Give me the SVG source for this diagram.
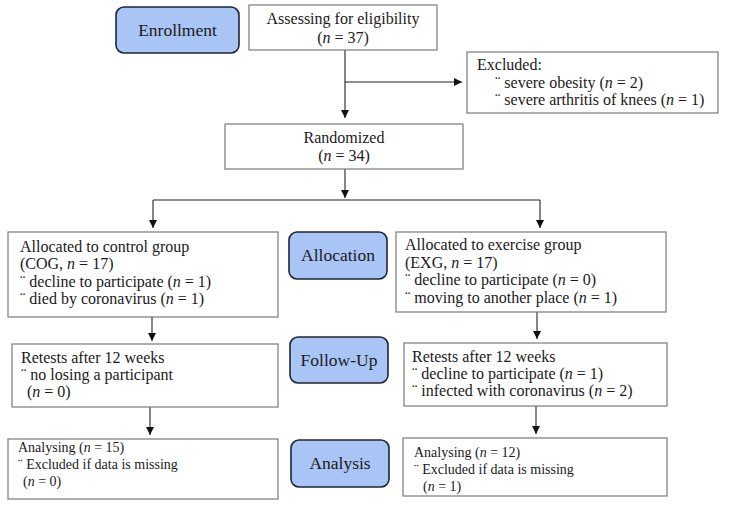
<svg xmlns="http://www.w3.org/2000/svg" width="730" height="507" viewBox="0 0 730 507">
<style>
.box{fill:#fff;stroke:#7a7a7a;stroke-width:1.2}
.stage{fill:#a8c5f5;stroke:#1e2535;stroke-width:1.6}
text{font-family:"Liberation Serif","DejaVu Serif",serif;font-size:16px;fill:#1a1a1a}
.st{font-size:17.5px}
.c{text-anchor:middle}
.sm{font-size:14px}
.ln{stroke:#222;stroke-width:1.1;fill:none}
</style>
<defs>
<marker id="ah" markerWidth="8" markerHeight="8" refX="8" refY="4" orient="auto" markerUnits="userSpaceOnUse">
<path d="M0,0 L8,4 L0,8 z" fill="#111"/>
</marker>
</defs>
<rect width="730" height="507" fill="#fff"/>
<g id="connectors">
<path class="ln" d="M345,50 V118" marker-end="url(#ah)"/>
<path class="ln" d="M345,82 H462" marker-end="url(#ah)"/>
<path class="ln" d="M345,169 V198" marker-end="url(#ah)"/>
<path class="ln" d="M153,200 H540"/>
<path class="ln" d="M153,200 V228" marker-end="url(#ah)"/>
<path class="ln" d="M540,200 V228" marker-end="url(#ah)"/>
<path class="ln" d="M152,317 V341" marker-end="url(#ah)"/>
<path class="ln" d="M537,312 V339" marker-end="url(#ah)"/>
<path class="ln" d="M150,407 V435" marker-end="url(#ah)"/>
<path class="ln" d="M536,406 V434" marker-end="url(#ah)"/>
</g>
<g id="enrollment">
<rect class="stage" x="116" y="7" width="123" height="46" rx="8"/>
<text class="st c" x="177.5" y="36">Enrollment</text>
</g>
<g id="assessing">
<rect class="box" x="249" y="5" width="188" height="45"/>
<text class="c" x="343" y="24">Assessing for eligibility</text>
<text class="c" x="343" y="43">(<tspan font-style="italic">n</tspan> = 37)</text>
</g>
<g id="excluded">
<rect class="box" x="467" y="52" width="251" height="61"/>
<text x="477" y="70">Excluded:</text>
<text x="495" y="88">¨ severe obesity (<tspan font-style="italic">n</tspan> = 2)</text>
<text x="495" y="105">¨ severe arthritis of knees (<tspan font-style="italic">n</tspan> = 1)</text>
</g>
<g id="randomized">
<rect class="box" x="225" y="124" width="238" height="45"/>
<text class="c" x="344" y="143">Randomized</text>
<text class="c" x="344" y="161">(<tspan font-style="italic">n</tspan> = 34)</text>
</g>
<g id="control-allocation">
<rect class="box" x="8" y="232" width="270" height="85"/>
<text x="20" y="252">Allocated to control group</text>
<text x="20" y="269">(COG, <tspan font-style="italic">n</tspan> = 17)</text>
<text x="20" y="287">¨ decline to participate (<tspan font-style="italic">n</tspan> = 1)</text>
<text x="20" y="304">¨ died by coronavirus (<tspan font-style="italic">n</tspan> = 1)</text>
</g>
<g id="allocation">
<rect class="stage" x="289" y="232" width="98" height="47" rx="8"/>
<text class="st c" x="338" y="261">Allocation</text>
</g>
<g id="exercise-allocation">
<rect class="box" x="396" y="232" width="270" height="80"/>
<text x="405" y="250">Allocated to exercise group</text>
<text x="405" y="268">(EXG, <tspan font-style="italic">n</tspan> = 17)</text>
<text x="405" y="285">¨ decline to participate (<tspan font-style="italic">n</tspan> = 0)</text>
<text x="405" y="303">¨ moving to another place (<tspan font-style="italic">n</tspan> = 1)</text>
</g>
<g id="control-followup">
<rect class="box" x="12" y="344" width="266" height="63"/>
<text x="21" y="363">Retests after 12 weeks</text>
<text x="21" y="380">¨ no losing a participant</text>
<text x="27" y="397">(<tspan font-style="italic">n</tspan> = 0)</text>
</g>
<g id="followup">
<rect class="stage" x="290" y="337" width="98" height="46" rx="8"/>
<text class="st c" x="339" y="366">Follow-Up</text>
</g>
<g id="exercise-followup">
<rect class="box" x="404" y="343" width="263" height="63"/>
<text x="412" y="362">Retests after 12 weeks</text>
<text x="412" y="379">¨ decline to participate (<tspan font-style="italic">n</tspan> = 1)</text>
<text x="412" y="396">¨ infected with coronavirus (<tspan font-style="italic">n</tspan> = 2)</text>
</g>
<g id="control-analysis">
<rect class="box" x="8" y="439" width="270" height="60"/>
<text class="sm" x="18" y="452">Analysing (<tspan font-style="italic">n</tspan> = 15)</text>
<text class="sm" x="18" y="469">¨ Excluded if data is missing</text>
<text class="sm" x="23" y="486">(<tspan font-style="italic">n</tspan> = 0)</text>
</g>
<g id="analysis">
<rect class="stage" x="291" y="440" width="98" height="47" rx="8"/>
<text class="st c" x="340" y="469">Analysis</text>
</g>
<g id="exercise-analysis">
<rect class="box" x="403" y="438" width="264" height="58"/>
<text class="sm" x="414" y="457">Analysing (<tspan font-style="italic">n</tspan> = 12)</text>
<text class="sm" x="414" y="474">¨ Excluded if data is missing</text>
<text class="sm" x="423" y="491">(<tspan font-style="italic">n</tspan> = 1)</text>
</g>
</svg>
